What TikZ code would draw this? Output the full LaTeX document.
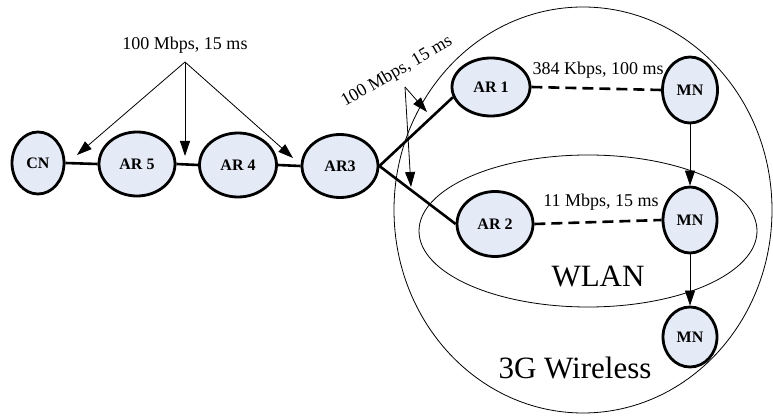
\documentclass[tikz,border=0pt]{standalone}
\usepackage{fontspec}
\setmainfont{Liberation Serif}
\usetikzlibrary{shapes.geometric,arrows.meta}
\definecolor{nodefill}{RGB}{228,234,246}
\tikzset{
  netnode/.style={ellipse,draw=black,line width=2.8pt,fill=nodefill,inner sep=0pt,
    font=\fontsize{16}{16}\selectfont\bfseries},
  link/.style={line width=2.6pt},
  wlink/.style={line width=2.6pt,dash pattern=on 11pt off 6pt},
  pointer/.style={line width=0.8pt,-{Triangle[length=15pt,width=10pt]}},
  region/.style={line width=0.8pt},
  lbl/.style={font=\fontsize{18}{18}\selectfont,inner sep=0pt},
  biglbl/.style={font=\fontsize{31}{31}\selectfont,inner sep=0pt},
}
\begin{document}
\begin{tikzpicture}[x=1pt,y=1pt]
\useasboundingbox (0,0) rectangle (773,415);
% regions
\draw[region] (583,205) ellipse [x radius=189, y radius=203];
\draw[region] (588,184) ellipse [x radius=169, y radius=76];
% nodes
\node[netnode,minimum width=52pt,minimum height=62pt] (CN) at (38,252) {CN};
\node[netnode,minimum width=76pt,minimum height=64pt] (AR5) at (137,251) {AR 5};
\node[netnode,minimum width=77pt,minimum height=64pt] (AR4) at (238,250) {AR 4};
\node[netnode,minimum width=76pt,minimum height=63pt] (AR3) at (340,249) {AR3};
\node[netnode,minimum width=78pt,minimum height=58pt] (AR1) at (491,328) {AR 1};
\node[netnode,minimum width=55pt,minimum height=66pt] (MN1) at (690,325) {MN};
\node[netnode,minimum width=76pt,minimum height=65pt] (AR2) at (495,191) {AR 2};
\node[netnode,minimum width=54pt,minimum height=66pt] (MN2) at (690,195) {MN};
\node[netnode,minimum width=54pt,minimum height=60pt] (MN3) at (690,78) {MN};
% wired links
\draw[link] (CN.east) -- (AR5.west);
\draw[link] (AR5.east) -- (AR4.west);
\draw[link] (AR4.east) -- (AR3.west);
\draw[link] (AR3.east) -- (AR1.195);
\draw[link] (AR3.east) -- (AR2.west);
% wireless links
\draw[wlink] (AR1.east) -- (MN1.west);
\draw[wlink] (AR2.east) -- (MN2.west);
% movement
\draw[pointer] (MN1.south) -- (MN2.north);
\draw[pointer] (MN2.south) -- (MN3.north);
% labels
\node[lbl] (L1) at (185,370) {100 Mbps, 15 ms};
\coordinate (L1o) at (185,353);
\coordinate (t1) at (77,260);
\coordinate (t2) at (185,259);
\coordinate (t3) at (293,257);
\draw[pointer] (L1o) -- (t1);
\draw[pointer] (L1o) -- (t2);
\draw[pointer] (L1o) -- (t3);
\node[lbl,rotate=30] (L2) at (397,343) {100 Mbps, 15 ms};
\coordinate (L2o) at (405,328);
\coordinate (t4) at (427,303);
\coordinate (t5) at (411,228);
\draw[pointer] (L2o) -- (t4);
\draw[pointer] (L2o) -- (t5);
\node[lbl] (L3) at (598,345) {384 Kbps, 100 ms};
\node[lbl] (L4) at (601,213) {11 Mbps, 15 ms};
\node[biglbl] (W) at (598,138) {WLAN};
\node[biglbl] (G) at (575,47) {3G Wireless};
\end{tikzpicture}
\end{document}
